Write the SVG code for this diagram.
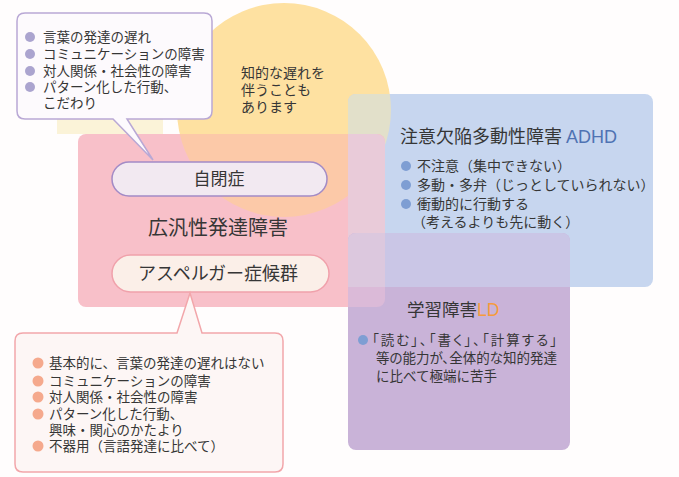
<svg xmlns="http://www.w3.org/2000/svg" width="679" height="477" viewBox="0 0 679 477">
<style>
.t{font-family:"Noto Sans CJK JP","Noto Sans",sans-serif;fill:#363636;}
.s13{font-size:13.5px;}
.s14{font-size:14px;}
.lat{font-family:"Liberation Sans",Arial,sans-serif;}
.bp{fill:#aba4cf;}
.bs{fill:#f5a98d;}
.bb{fill:#7e9ed3;}
</style>
<defs>
<clipPath id="clipPink"><rect x="78" y="134" width="307" height="173" rx="8"/></clipPath>
<clipPath id="clipADHD"><rect x="348" y="94" width="305" height="193" rx="8"/></clipPath>
<clipPath id="clipLD"><rect x="348" y="233" width="222" height="217" rx="8"/></clipPath>
</defs>
<rect width="679" height="477" fill="#fffdfd"/>
<rect x="57" y="100" width="106" height="34" fill="#fbf3d8"/>

<g id="circle-intellectual">
<circle cx="284" cy="110" r="107" fill="#fee1a1"/>
</g>
<g id="adhd-area">
<rect x="348" y="94" width="305" height="193" rx="8" fill="#c7d6ef"/>
<circle cx="284" cy="110" r="107" fill="#e2e0ca" clip-path="url(#clipADHD)"/>
</g>
<g id="pdd-area">
<rect x="78" y="134" width="307" height="173" rx="8" fill="#f8c0c9"/>
<circle cx="284" cy="110" r="107" fill="#fcc9a8" clip-path="url(#clipPink)"/>
<rect x="78" y="134" width="307" height="173" rx="8" fill="#e9cbd9" clip-path="url(#clipADHD)"/>
</g>
<g id="ld-area">
<rect x="348" y="233" width="222" height="217" rx="8" fill="#c9b3d8"/>
<rect x="348" y="233" width="222" height="217" rx="8" fill="#cac6e6" clip-path="url(#clipADHD)"/>
<g clip-path="url(#clipPink)">
<rect x="348" y="233" width="222" height="217" rx="8" fill="#dbbad8"/>
<rect x="348" y="233" width="37" height="54" fill="#dcc8de" clip-path="url(#clipLD)"/>
</g>
</g>

<g id="circle-text">
<text class="t s14" x="241" y="78">知的な遅れを</text>
<text class="t s14" x="241" y="95">伴うことも</text>
<text class="t s14" x="241" y="112">あります</text>
</g>

<g id="adhd-text">
<text class="t" x="400" y="143" font-size="18">注意欠陥多動性障害 <tspan class="lat" fill="#4f73b3">ADHD</tspan></text>
<circle class="bb" cx="406" cy="166" r="5"/>
<circle class="bb" cx="406" cy="185" r="5"/>
<circle class="bb" cx="406" cy="204" r="5"/>
<text class="t s14" x="417" y="171">不注意（集中できない）</text>
<text class="t s14" x="417" y="190">多動・多弁（じっとしていられない）</text>
<text class="t s14" x="417" y="209">衝動的に行動する</text>
<text class="t s14" x="412" y="227">（考えるよりも先に動く）</text>
</g>

<g id="pdd-text">
<text class="t" x="218" y="235" font-size="20" text-anchor="middle">広汎性発達障害</text>
</g>

<g id="autism">
<rect x="112" y="162" width="215" height="34" rx="17" fill="#f2e9f1" stroke="#a38bc6" stroke-width="1.5"/>
<text class="t" x="219" y="185" font-size="17" text-anchor="middle">自閉症</text>
</g>

<g id="asperger">
<rect x="112" y="255" width="217" height="37" rx="18.5" fill="#fbefe8" stroke="#f0a1ab" stroke-width="1.5"/>
<text class="t" x="218" y="280" font-size="18" text-anchor="middle">アスペルガー症候群</text>
</g>

<g id="ld-text">
<text class="t" x="407" y="316" font-size="17.5">学習障害<tspan class="lat" fill="#f69b3c">LD</tspan></text>
<circle class="bb" cx="363" cy="340" r="5"/>
<text class="t s13" x="372" y="345" textLength="185" lengthAdjust="spacing" style="font-feature-settings:'palt' 1">「読む」、「書く」、「計算する」</text>
<text class="t s13" x="376" y="363" style="font-feature-settings:'palt' 1">等の能力が、全体的な知的発達</text>
<text class="t s13" x="376" y="381">に比べて極端に苦手</text>
</g>

<g id="callout-autism">
<path d="M25,13 H204 Q212,13 212,21 V111 Q212,119 204,119 H127 L153,160 L113,119 H25 Q17,119 17,111 V21 Q17,13 25,13 Z" fill="#fdfafd" stroke="#b9a8d5" stroke-width="1.5"/>
<circle class="bp" cx="30" cy="37" r="5"/>
<circle class="bp" cx="30" cy="54" r="5"/>
<circle class="bp" cx="30" cy="71" r="5"/>
<circle class="bp" cx="30" cy="87" r="5"/>
<text class="t s13" x="43" y="42">言葉の発達の遅れ</text>
<text class="t s13" x="43" y="59">コミュニケーションの障害</text>
<text class="t s13" x="43" y="76">対人関係・社会性の障害</text>
<text class="t s13" x="43" y="92">パターン化した行動、</text>
<text class="t s13" x="43" y="108">こだわり</text>
</g>

<g id="callout-asperger">
<path d="M23,333 H177 L190,293 L202,333 H275 Q283,333 283,341 V464 Q283,472 275,472 H23 Q15,472 15,464 V341 Q15,333 23,333 Z" fill="#fdf6f5" stroke="#f2a6aa" stroke-width="1.5"/>
<circle class="bs" cx="38" cy="363" r="5.5"/>
<circle class="bs" cx="38" cy="381" r="5.5"/>
<circle class="bs" cx="38" cy="397" r="5.5"/>
<circle class="bs" cx="38" cy="414" r="5.5"/>
<circle class="bs" cx="38" cy="446" r="5.5"/>
<text class="t s13" x="49" y="368">基本的に、言葉の発達の遅れはない</text>
<text class="t s13" x="49" y="386">コミュニケーションの障害</text>
<text class="t s13" x="49" y="402">対人関係・社会性の障害</text>
<text class="t s13" x="49" y="419">パターン化した行動、</text>
<text class="t s13" x="49" y="435">興味・関心のかたより</text>
<text class="t s13" x="49" y="451">不器用（言語発達に比べて）</text>
</g>
</svg>
